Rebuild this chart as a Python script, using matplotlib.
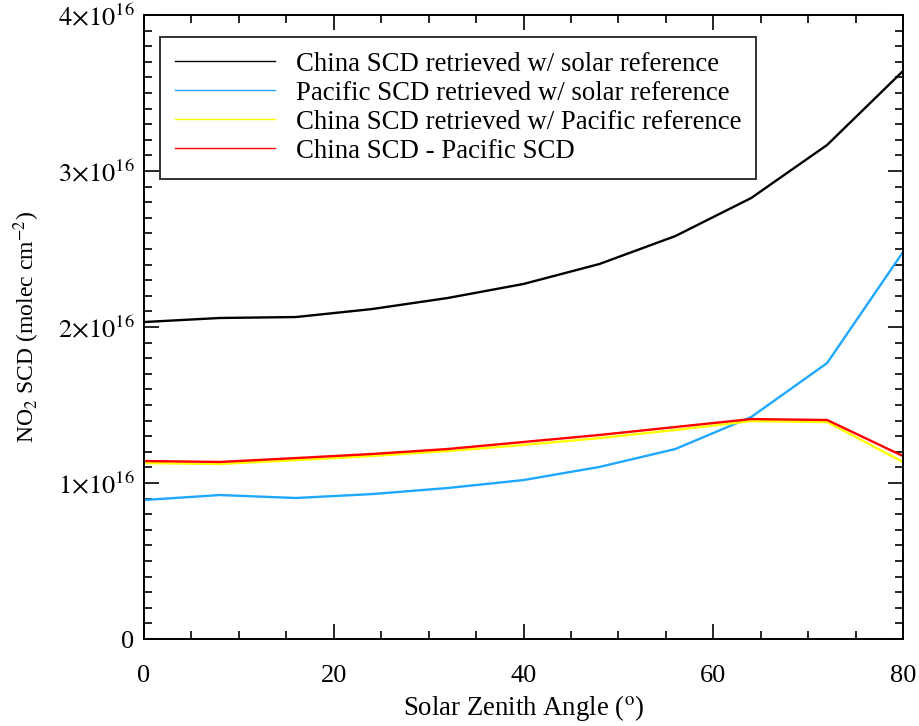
import numpy as np
import matplotlib
matplotlib.use('Agg')
from matplotlib import pyplot as plt
from matplotlib.ticker import MultipleLocator

plt.rcParams['font.family'] = ['Liberation Serif', 'DejaVu Serif']
plt.rcParams['mathtext.fontset'] = 'stix'

sza = [0, 8, 16, 24, 32, 40, 48, 56, 64, 72, 80]

# slant columns in units of 1e16 molec cm^-2
china_solar = [2.032, 2.058, 2.064, 2.115, 2.186, 2.276, 2.404, 2.583, 2.827, 3.167, 3.641]
pacific_solar = [0.891, 0.923, 0.904, 0.929, 0.968, 1.019, 1.103, 1.218, 1.423, 1.769, 2.481]
china_pacific = [1.128, 1.122, 1.147, 1.173, 1.205, 1.244, 1.288, 1.340, 1.397, 1.391, 1.135]
china_minus_pacific = [1.141, 1.135, 1.160, 1.186, 1.218, 1.263, 1.308, 1.359, 1.410, 1.404, 1.173]

labels = ['China SCD retrieved w/ solar reference',
          'Pacific SCD retrieved w/ solar reference',
          'China SCD retrieved w/ Pacific reference',
          'China SCD - Pacific SCD']
colors = ['black', '#1ea8ff', '#ffff00', '#ff0000']

yticks = [0, 1e16, 2e16, 3e16, 4e16]
ytick_labels = ['0', r'$1{\times}10^{16}$', r'$2{\times}10^{16}$',
                r'$3{\times}10^{16}$', r'$4{\times}10^{16}$']

fig = plt.figure(figsize=(9.19, 7.26), dpi=100)
ax = fig.add_axes([0.1567, 0.1198, 0.8259, 0.8595])

series = [china_solar, pacific_solar, china_pacific, china_minus_pacific]
for vals, c, lab in zip(series, colors, labels):
    ax.plot(sza, np.array(vals) * 1e16, color=c, lw=1.7, label=lab)

ax.set_xlim(0, 80)
ax.set_ylim(0, 4e16)
ax.set_xticks([0, 20, 40, 60, 80])
ax.xaxis.set_minor_locator(MultipleLocator(5))
ax.set_yticks(yticks)
ax.set_yticklabels(ytick_labels)
ax.yaxis.set_minor_locator(MultipleLocator(1e15))

ax.tick_params(which='both', direction='in', top=True, right=True, width=1.2, labelsize=19)
ax.tick_params(which='major', length=11)
ax.tick_params(which='minor', length=6)
ax.tick_params(axis='x', which='major', pad=19)
ax.tick_params(axis='y', which='major', pad=7)
for s in ax.spines.values():
    s.set_linewidth(1.4)

ax.set_xlabel(r'Solar Zenith Angle ($^{\rm o}$)', fontsize=19.3, labelpad=4)
ax.set_ylabel(r'NO$_2$ SCD (molec cm$^{-2}$)', fontsize=17, labelpad=11)

leg = ax.legend(loc='upper left', bbox_to_anchor=(0.0211, 0.9647), borderaxespad=0,
                fontsize=19.3, frameon=True, fancybox=False, handlelength=3.73,
                handletextpad=0.8, labelspacing=0.15, borderpad=0.55)
leg.get_frame().set_edgecolor('black')
leg.get_frame().set_linewidth(1.4)
for line in leg.get_lines():
    line.set_linewidth(1.0)

fig.savefig('out.png', dpi=100)
